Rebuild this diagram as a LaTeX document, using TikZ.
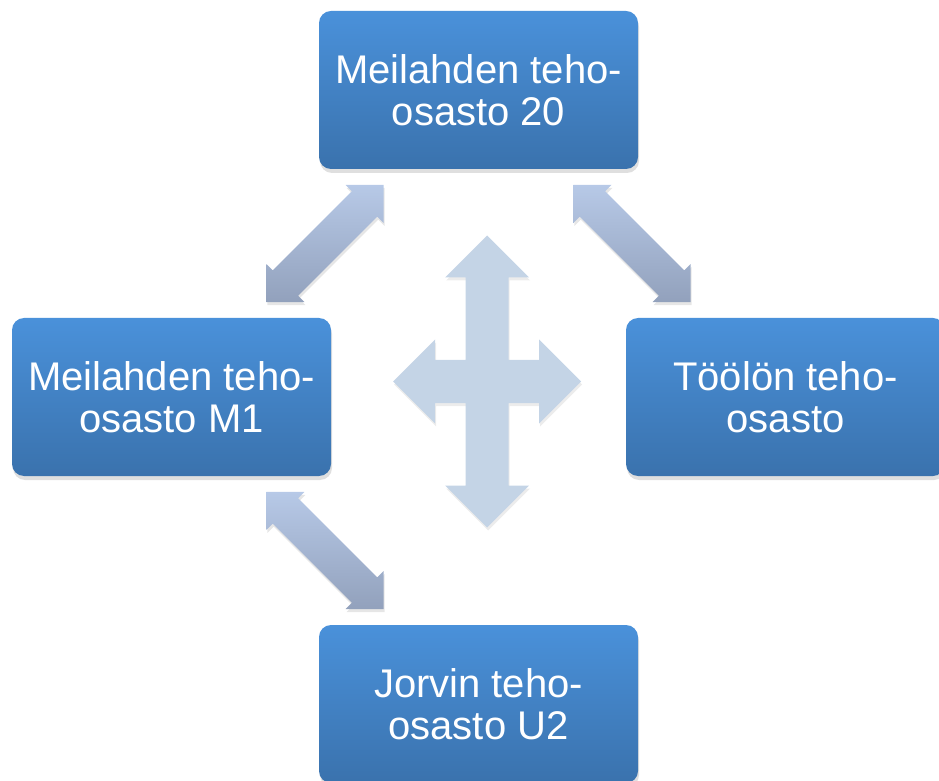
\documentclass[tikz,border=0pt]{standalone}
\usepackage{fontspec}
\setmainfont{Liberation Sans}
\usetikzlibrary{calc,shadows}
\definecolor{boxtop}{HTML}{4A91DA}
\definecolor{boxbot}{HTML}{3A72AD}
\definecolor{arrtop}{HTML}{B7C9E7}
\definecolor{arrbot}{HTML}{92A1BC}
\definecolor{crossfill}{HTML}{C4D4E6}
\tikzset{
  unitbox/.style={rounded corners=12pt, minimum width=319pt, minimum height=158pt,
    inner sep=0pt, align=center, text=white, font=\fontsize{40}{42}\selectfont,
    top color=boxtop, bottom color=boxbot,
    drop shadow={shadow xshift=1pt, shadow yshift=-4pt, opacity=0.25}},
  linkarrow/.style={top color=arrtop, bottom color=arrbot,
    drop shadow={shadow xshift=1pt, shadow yshift=-3pt, opacity=0.2}},
  crossarrow/.style={fill=crossfill,
    drop shadow={shadow xshift=1pt, shadow yshift=-3pt, opacity=0.15}},
  pics/dblarrow/.style={code={
    \path[linkarrow] (-83,0) -- (-56,27) -- (-56,18) -- (56,18) -- (56,27) -- (83,0)
      -- (56,-27) -- (56,-18) -- (-56,-18) -- (-56,-27) -- cycle;
  }}
}
\begin{document}
\begin{tikzpicture}[x=1pt, y=1pt]
  \useasboundingbox (0,0) rectangle (939,780);
  % units
  \node[unitbox] (m20) at (478.5,690) {Meilahden teho-\\osasto 20};
  \node[unitbox] (m1)  at (171.5,383) {Meilahden teho-\\osasto M1};
  \node[unitbox] (tl)  at (785.5,383) {Töölön teho-\\osasto};
  \node[unitbox] (u2)  at (478.5,76)  {Jorvin teho-\\osasto U2};
  % links between units
  \pic[rotate=45]  at ($(m20.south west)!0.5!(m1.north east)$) {dblarrow};
  \pic[rotate=-45] at ($(m20.south east)!0.5!(tl.north west)$) {dblarrow};
  \pic[rotate=-45] at ($(m1.south east)!0.5!(u2.north west)$) {dblarrow};
  % centre cross
  \coordinate (hub) at (487,398.5);
  \path[crossarrow, shift={(hub)}] (0,146) -- (42,104) -- (21.5,104) -- (21.5,21.5)
    -- (52,21.5) -- (52,42) -- (94,0) -- (52,-42) -- (52,-21.5) -- (21.5,-21.5)
    -- (21.5,-104) -- (42,-104) -- (0,-146) -- (-42,-104) -- (-21.5,-104)
    -- (-21.5,-21.5) -- (-52,-21.5) -- (-52,-42) -- (-94,0) -- (-52,42)
    -- (-52,21.5) -- (-21.5,21.5) -- (-21.5,104) -- (-42,104) -- cycle;
\end{tikzpicture}
\end{document}
